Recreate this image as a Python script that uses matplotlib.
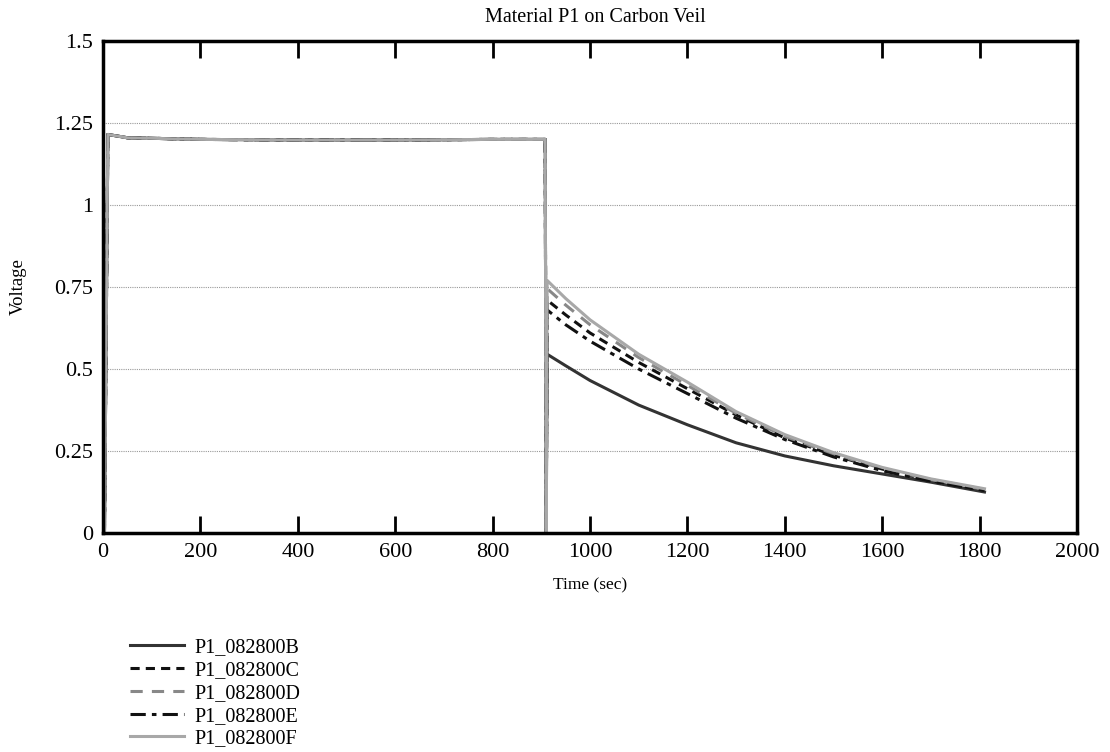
import matplotlib
matplotlib.use('Agg')
import matplotlib.pyplot as plt
from matplotlib.ticker import FuncFormatter

plt.rcParams['font.family'] = ['Liberation Serif', 'DejaVu Serif']

# time axis (sec), shared by all runs
t = [3, 10, 50, 200, 400, 600, 800, 908, 910, 912, 950, 1000, 1100, 1200,
     1300, 1400, 1500, 1600, 1700, 1810]
charge = [0, 1.215, 1.205, 1.2, 1.198, 1.198, 1.2, 1.2, 0]

decay_B = [0.545, 0.51, 0.465, 0.39, 0.33, 0.275, 0.235, 0.205, 0.18, 0.155, 0.125]
decay_C = [0.71, 0.665, 0.61, 0.52, 0.44, 0.36, 0.29, 0.237, 0.195, 0.16, 0.13]
decay_D = [0.745, 0.695, 0.635, 0.535, 0.45, 0.365, 0.295, 0.24, 0.197, 0.163, 0.133]
decay_E = [0.68, 0.635, 0.585, 0.50, 0.425, 0.35, 0.285, 0.232, 0.19, 0.158, 0.13]
decay_F = [0.77, 0.715, 0.65, 0.545, 0.46, 0.37, 0.30, 0.245, 0.20, 0.165, 0.135]

names = ['P1_082800B', 'P1_082800C', 'P1_082800D', 'P1_082800E', 'P1_082800F']
decays = [decay_B, decay_C, decay_D, decay_E, decay_F]
colors = ['#333333', '#111111', '#888888', '#111111', '#a8a8a8']
styles = ['-', (0, (3, 2)), (0, (4, 3)), (0, (5, 2, 1.5, 2)), '-']

fig = plt.figure(figsize=(11.1, 7.52), dpi=100)
ax = fig.add_axes([0.0928, 0.2912, 0.8775, 0.6543])

for name, d, c, ls in zip(names, decays, colors, styles):
    ax.plot(t, charge + d, color=c, linestyle=ls, linewidth=2.2, label=name)

ax.set_xlim(0, 2000)
ax.set_ylim(0, 1.5)
ax.set_xticks(range(0, 2001, 200))
ax.set_yticks([0, 0.25, 0.5, 0.75, 1, 1.25, 1.5])
ax.yaxis.set_major_formatter(FuncFormatter(lambda v, p: ('%g' % v)))
ax.yaxis.grid(True, linestyle=(0, (1, 1)), color='#999999', linewidth=0.8)
ax.tick_params(axis='x', direction='in', length=12, width=2, top=True,
               labelsize=16, pad=7)
ax.tick_params(axis='y', length=0, labelsize=16, pad=7)
for s in ax.spines.values():
    s.set_linewidth(2.5)

ax.set_title('Material P1 on Carbon Veil', fontsize=14.5, pad=14, x=0.505)
ax.set_xlabel('Time (sec)', fontsize=12.5, labelpad=11)
ax.set_ylabel('Voltage', fontsize=13.5, labelpad=20)

ax.legend(loc='upper left', bbox_to_anchor=(0.117, 0.151), bbox_transform=fig.transFigure,
          frameon=False, fontsize=14.5, handlelength=2.7, handletextpad=0.5,
          labelspacing=0.18, borderaxespad=0, borderpad=0)

fig.savefig('out.png', dpi=100)
